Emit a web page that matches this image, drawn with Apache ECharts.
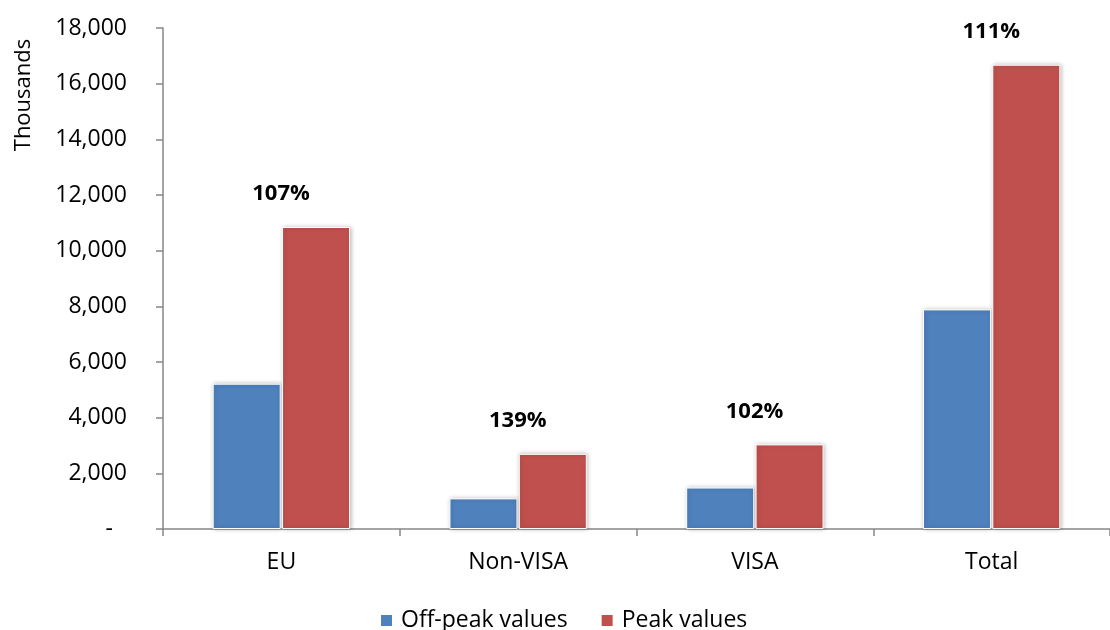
<!DOCTYPE html>
<html>
<head>
<meta charset="utf-8">
<title>Off-peak vs peak values</title>
<script src="https://cdn.jsdelivr.net/npm/echarts@6/dist/echarts.min.js"></script>
<style>
  html, body { margin: 0; padding: 0; background: #ffffff; }
  #chart { width: 1110px; height: 630px; }
</style>
</head>
<body>
<div id="chart"></div>
<script>
// Categories and values (thousands)
const categories = ['EU', 'Non-VISA', 'VISA', 'Total'];
const offPeak = [5220, 1100, 1490, 7890];
const peak = [10850, 2700, 3040, 16680];
// Growth from off-peak to peak, shown above each group
const growthLabels = ['107%', '139%', '102%', '111%'];
const seriesNames = ['Off-peak values', 'Peak values'];
const yTicks = { min: 0, max: 18000, interval: 2000 };

const FONT = '"Open Sans", "Noto Sans", sans-serif';
const AXIS_GREY = '#878787';

const chart = echarts.init(document.getElementById('chart'), null, { renderer: 'canvas' });

const barShadow = {
  borderColor: '#ffffff',
  borderWidth: 1,
  shadowBlur: 4,
  shadowColor: 'rgba(0,0,0,0.25)',
  shadowOffsetX: 1,
  shadowOffsetY: 0
};

chart.setOption({
  animation: false,
  backgroundColor: '#ffffff',
  textStyle: { fontFamily: FONT },
  grid: { left: 163, right: -9, top: 28, bottom: 101, containLabel: false },
  legend: {
    data: seriesNames,
    bottom: -7,
    left: 374,
    itemWidth: 13,
    itemHeight: 13,
    itemGap: 32,
    icon: 'rect',
    textStyle: { fontFamily: FONT, fontSize: 23, color: '#000000', padding: [0, 0, 0, 3] }
  },
  graphic: [{
    type: 'text',
    x: 24,
    y: 95,
    rotation: Math.PI / 2,
    style: {
      text: 'Thousands',
      fontFamily: FONT,
      fontSize: 22,
      fill: '#000000',
      align: 'center',
      verticalAlign: 'middle'
    }
  }],
  xAxis: {
    type: 'category',
    data: categories,
    axisLine: { lineStyle: { color: AXIS_GREY, width: 1.5 } },
    axisTick: { show: true, length: 7, alignWithLabel: false, lineStyle: { color: AXIS_GREY, width: 1.5 } },
    axisLabel: { fontFamily: FONT, fontSize: 23, color: '#000000', margin: 22 },
    splitLine: { show: false }
  },
  yAxis: {
    type: 'value',
    min: yTicks.min,
    max: yTicks.max,
    interval: yTicks.interval,
    axisLine: { show: true, lineStyle: { color: AXIS_GREY, width: 1.5 } },
    axisTick: { show: true, length: 7, lineStyle: { color: AXIS_GREY, width: 1.5 } },
    splitLine: { show: false },
    axisLabel: {
      fontFamily: FONT,
      fontSize: 23,
      color: '#000000',
      margin: 36,
      formatter: function (v) {
        if (v === 0) return '{z|-}';
        return v.toLocaleString('en-US');
      },
      rich: {
        z: { fontFamily: FONT, fontSize: 23, color: '#000000', padding: [0, 14, 0, 0] }
      }
    }
  },
  series: [
    {
      name: seriesNames[0],
      type: 'bar',
      data: offPeak,
      barWidth: 68,
      barGap: '2%',
      itemStyle: Object.assign({ color: '#4F81BD' }, barShadow)
    },
    {
      name: seriesNames[1],
      type: 'bar',
      data: peak,
      barWidth: 68,
      barGap: '2%',
      itemStyle: Object.assign({ color: '#C0504D' }, barShadow),
      label: {
        show: true,
        position: 'top',
        distance: 22,
        offset: [-35, 0],
        fontFamily: FONT,
        fontSize: 22,
        fontWeight: 'bold',
        color: '#000000',
        formatter: function (p) { return growthLabels[p.dataIndex]; }
      }
    }
  ]
});
</script>
</body>
</html>
